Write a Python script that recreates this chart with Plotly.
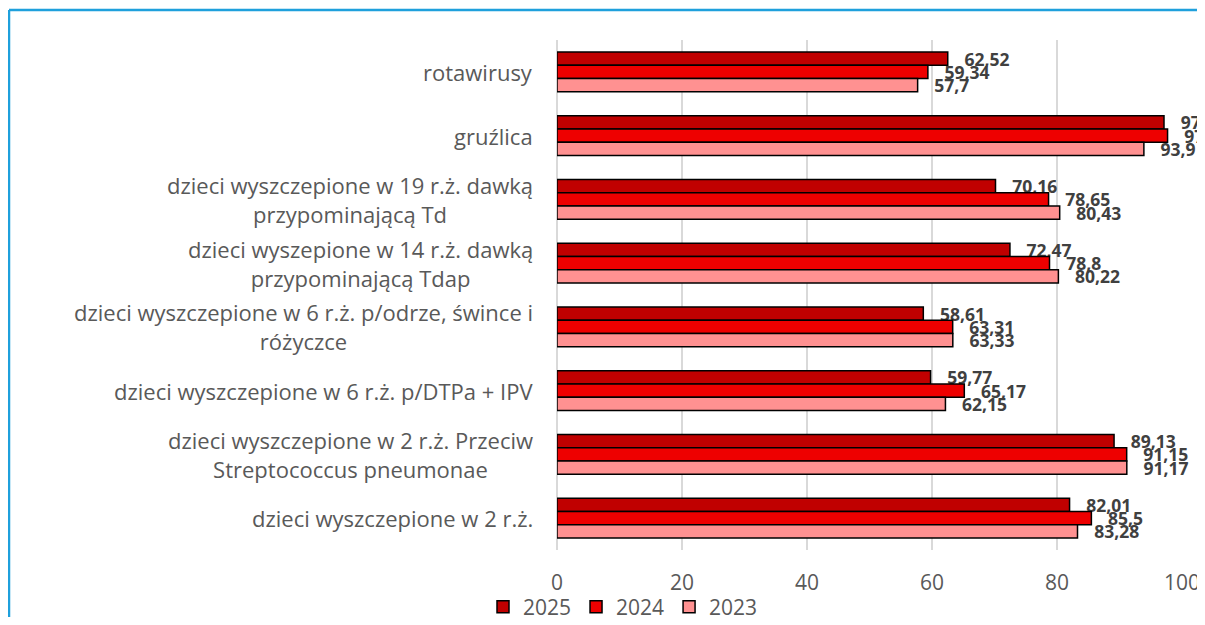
import plotly.graph_objects as go

categories = [
    "rotawirusy",
    "gruźlica",
    "dzieci wyszczepione w 19 r.ż. dawką<br>przypominającą Td",
    "dzieci wyszepione w 14 r.ż. dawką<br>przypominającą Tdap",
    "dzieci wyszczepione w 6 r.ż. p/odrze, śwince i<br>różyczce",
    "dzieci wyszczepione w 6 r.ż. p/DTPa + IPV",
    "dzieci wyszczepione w 2 r.ż. Przeciw<br>Streptococcus pneumonae",
    "dzieci wyszczepione w 2 r.ż.",
]
values_2025 = [62.52, 97.12, 70.16, 72.47, 58.61, 59.77, 89.13, 82.01]
values_2024 = [59.34, 97.69, 78.65, 78.8, 63.31, 65.17, 91.15, 85.5]
values_2023 = [57.7, 93.9, 80.43, 80.22, 63.33, 62.15, 91.17, 83.28]
series_names = ["2025", "2024", "2023"]
x_ticks = [0, 20, 40, 60, 80, 100]

colors = ["#C00000", "#EE0000", "#FF9191"]
FONT = "Open Sans"
GRAY = "#595959"

# figure geometry (the page adds an 8px body margin on every side)
W, H = 1189, 609
ML, MR, MT, MB = 549, 15, 32, 67
PW, PH = W - ML - MR, H - MT - MB


def fmt(v):
    return "\u00a0\u00a0\u00a0" + str(v).replace(".", ",")


fig = go.Figure()
for name, vals, col in zip(series_names, [values_2025, values_2024, values_2023], colors):
    fig.add_trace(go.Bar(
        y=categories, x=vals, name=name, orientation="h",
        marker=dict(color=col, line=dict(color="#000000", width=1.5)),
        text=[fmt(v) for v in vals], textposition="outside",
        textfont=dict(family=FONT, size=17.5, color="#404040", weight="bold"),
        constraintext="none", cliponaxis=False,
    ))

annotations = []
for c in categories:
    annotations.append(dict(
        x=-22 / PW, xref="paper", y=c, yref="y", text=c, showarrow=False,
        xanchor="right", yanchor="middle", align="center",
        font=dict(family=FONT, size=22, color=GRAY),
    ))

# chart frame (blue), top and left edges
fx = (1 - ML) / PW
fy = (PH + MT - 2) / PH
shapes = [
    dict(type="line", xref="paper", yref="paper", x0=fx, x1=(W + 10 - ML) / PW,
         y0=fy, y1=fy, line=dict(color="#1FA0DC", width=2.5)),
    dict(type="line", xref="paper", yref="paper", x0=fx, x1=fx,
         y0=fy, y1=-(MB + 10) / PH, line=dict(color="#1FA0DC", width=2.5)),
]

fig.update_layout(
    width=W, height=H,
    margin=dict(l=ML, r=MR, t=MT, b=MB, pad=0, autoexpand=False),
    paper_bgcolor="white", plot_bgcolor="white",
    barmode="group", bargap=0.373, bargroupgap=0,
    font=dict(family=FONT, size=21, color=GRAY),
    xaxis=dict(range=[0, 100], tickvals=x_ticks, showgrid=True, gridcolor="#D9D9D9", gridwidth=1.5,
               zeroline=True, zerolinecolor="#D9D9D9", zerolinewidth=1.5,
               tickfont=dict(family=FONT, size=21, color=GRAY), ticklabelstandoff=18,
               ticklabeloverflow="allow", fixedrange=True),
    yaxis=dict(autorange="reversed", showticklabels=False, showgrid=False, fixedrange=True),
    legend=dict(orientation="h", x=-74 / PW, xanchor="left", y=-57 / PH, yanchor="middle",
                font=dict(family=FONT, size=21, color=GRAY), itemwidth=30,
                bgcolor="rgba(0,0,0,0)", traceorder="normal"),
    annotations=annotations,
    shapes=shapes,
)

fig.write_html("out.html")
